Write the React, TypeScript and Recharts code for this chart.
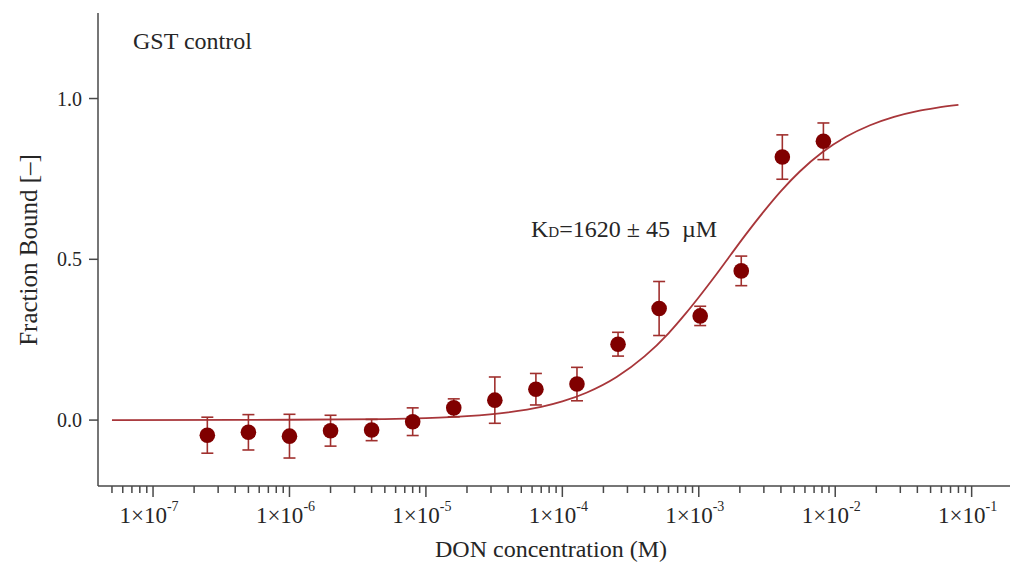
import React from "react";
import {
  ComposedChart,
  Scatter,
  Line,
  XAxis,
  YAxis,
  ErrorBar,
  Customized,
} from "recharts";

// DON titration series (M) and measured fraction bound
const concentrations = [
  2.5e-7, 5e-7, 1e-6, 2e-6, 4e-6, 8e-6, 1.6e-5, 3.2e-5, 6.4e-5, 1.28e-4,
  2.56e-4, 5.12e-4, 1.024e-3, 2.048e-3, 4.096e-3, 8.192e-3,
];
const fractionBound = [
  -0.047, -0.038, -0.05, -0.033, -0.031, -0.005, 0.038, 0.062, 0.096, 0.112,
  0.236, 0.347, 0.324, 0.464, 0.818, 0.867,
];
const fractionError = [
  0.056, 0.055, 0.068, 0.048, 0.033, 0.043, 0.028, 0.072, 0.049, 0.052,
  0.037, 0.084, 0.03, 0.046, 0.069, 0.057,
];

// fitted curve
const fitConc = [
  5e-8, 1e-6, 5e-6, 1e-5, 2e-5, 4e-5, 7e-5, 1e-4, 1.5e-4, 2.5e-4, 4e-4, 6e-4,
  8e-4, 1e-3, 1.3e-3, 1.7e-3, 2.2e-3, 3e-3, 4e-3, 5.5e-3, 8e-3, 1.2e-2, 1.8e-2,
  2.7e-2, 4e-2, 5.5e-2, 8e-2,
];
const fitFraction = [
  0.0, 0.001, 0.003, 0.006, 0.012, 0.024, 0.041, 0.058, 0.085, 0.134, 0.198,
  0.27, 0.331, 0.382, 0.445, 0.512, 0.576, 0.649, 0.712, 0.773, 0.832, 0.881,
  0.917, 0.943, 0.961, 0.971, 0.98,
];

const majorTicks = [1e-7, 1e-6, 1e-5, 1e-4, 1e-3, 1e-2, 1e-1];
const minorSteps = [2, 3, 4, 5, 6, 7, 8, 9];
const yTicks = [0, 0.5, 1.0];

const X_DOMAIN: [number, number] = [3.95e-8, 0.191];
const Y_DOMAIN: [number, number] = [-0.205, 1.266];

const AXIS = "#484848";
const TEXT = "#262626";
const FONT = "'Liberation Serif', 'DejaVu Serif', serif";

const points = concentrations.map((x, i) => ({
  x,
  y: fractionBound[i],
  err: fractionError[i],
}));
const fit = fitConc.map((x, i) => ({ x, y: fitFraction[i] }));

const xTicks = [1e-8, ...majorTicks]
  .flatMap((m) => [m, ...minorSteps.map((s) => m * s)])
  .filter((v) => v >= X_DOMAIN[0] * 1.05 && v <= X_DOMAIN[1]);

function LogTick(props: any) {
  const { x, y, payload } = props;
  const e = Math.log10(payload.value);
  const major = Math.abs(e - Math.round(e)) < 1e-6;
  return (
    <g>
      <line
        x1={x}
        x2={x}
        y1={y}
        y2={y + (major ? 11 : 7)}
        stroke={AXIS}
        strokeWidth={1.5}
      />
      {major && (
        <text
          x={x - 4}
          y={y + 37}
          textAnchor="middle"
          fontFamily={FONT}
          fontSize={23}
          fill={TEXT}
        >
          1×10
          <tspan dy={-12} fontSize={14}>
            {Math.round(e)}
          </tspan>
        </text>
      )}
    </g>
  );
}

function Dot(props: any) {
  const { cx, cy } = props;
  return <circle cx={cx} cy={cy} r={7.8} fill="#800000" />;
}

function Annotations() {
  return (
    <g fontFamily={FONT} fill={TEXT}>
      <text x={133} y={49} fontSize={24}>
        GST control
      </text>
      <text x={531} y={237} fontSize={24}>
        K<tspan fontSize={15}>D</tspan>=1620 ± 45{"\u00a0\u00a0"}µM
      </text>
      <text x={551} y={557} fontSize={24} textAnchor="middle">
        DON concentration (M)
      </text>
      <text
        x={0}
        y={0}
        fontSize={25}
        textAnchor="middle"
        transform="translate(37 250) rotate(-90)"
      >
        Fraction Bound [–]
      </text>
    </g>
  );
}

export default function App() {
  return (
    <div style={{ position: "absolute", left: 0, top: 0, width: 1017, height: 563, background: "#fff" }}>
      <ComposedChart
        width={1017}
        height={563}
        margin={{ top: 13, right: 7, left: 0, bottom: 0 }}
      >
        <XAxis
          dataKey="x"
          type="number"
          scale="log"
          domain={X_DOMAIN}
          allowDataOverflow
          ticks={xTicks}
          interval={0}
          tick={<LogTick />}
          tickLine={false}
          tickSize={0}
          tickMargin={0}
          height={77}
          axisLine={{ stroke: AXIS, strokeWidth: 1.5 }}
        />
        <YAxis
          dataKey="y"
          type="number"
          domain={Y_DOMAIN}
          allowDataOverflow
          ticks={yTicks}
          width={98}
          tickSize={9}
          tickMargin={7}
          tickFormatter={(v: number) => v.toFixed(1)}
          tick={{ fontFamily: FONT, fontSize: 20, fill: TEXT }}
          tickLine={{ stroke: AXIS, strokeWidth: 1.5 }}
          axisLine={{ stroke: AXIS, strokeWidth: 1.5 }}
        />
        <Line
          data={fit}
          dataKey="y"
          type="monotone"
          stroke="#a8363a"
          strokeWidth={1.8}
          dot={false}
          activeDot={false}
          isAnimationActive={false}
        />
        <Scatter data={points} dataKey="y" shape={<Dot />} isAnimationActive={false}>
          <ErrorBar
            dataKey="err"
            direction="y"
            width={6}
            stroke="#a0302e"
            strokeWidth={1.6}
          />
        </Scatter>
        <Customized component={Annotations} />
      </ComposedChart>
    </div>
  );
}
